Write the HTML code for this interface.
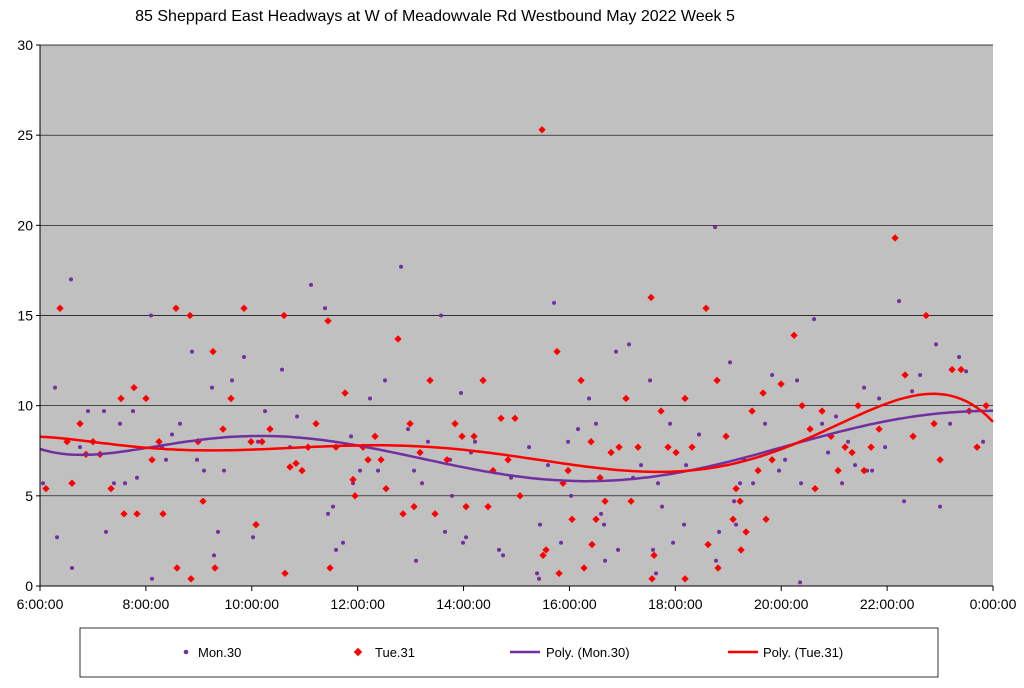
<!DOCTYPE html>
<html><head><meta charset="utf-8"><style>
body{margin:0;background:#fff;font-family:"Liberation Sans",sans-serif;}
svg text{font-family:"Liberation Sans",sans-serif;}
</style></head><body>
<svg id="chart" width="1024" height="683">
<text x="435" y="21" text-anchor="middle" font-size="16">85 Sheppard East Headways at W of Meadowvale Rd Westbound May 2022  Week 5</text>
<rect x="40" y="45" width="953" height="541" fill="#c0c0c0"/>
<g id="grid"></g><g id="marks"></g><g id="axes"></g>
<g>
<rect x="80" y="628" width="858" height="49" fill="#fff" stroke="#000" stroke-width="0.8"/>
<circle cx="186" cy="652" r="2.3" fill="#7030a0"/>
<text x="198" y="657" font-size="13">Mon.30</text>
<rect x="355" y="649" width="6" height="6" fill="#ff0000" transform="rotate(45 358 652)"/>
<text x="375" y="657" font-size="13">Tue.31</text>
<line x1="510" y1="652" x2="540" y2="652" stroke="#7030a0" stroke-width="2.5"/>
<text x="546" y="657" font-size="13">Poly. (Mon.30)</text>
<line x1="728" y1="652" x2="758" y2="652" stroke="#ff0000" stroke-width="2.5"/>
<text x="763" y="657" font-size="13">Poly. (Tue.31)</text>
</g>
</svg>
<script>
const yTicks=[0,5,10,15,20,25,30];
const xTickLabels=["6:00:00","8:00:00","10:00:00","12:00:00","14:00:00","16:00:00","18:00:00","20:00:00","22:00:00","0:00:00"];
const xTickHours=[6,8,10,12,14,16,18,20,22,24];
const tueXpx=[46,60,67,72,80,86,93,100,111,121,124,134,137,146,152,159,163,176,177,190,191,198,203,213,215,223,231,244,251,256,262,270,284,285,290,296,302,308,316,328,330,336,345,353,355,363,368,375,381,386,398,403,410,414,420,430,435,447,455,462,466,474,483,488,493,501,508,515,520,542,543,546,557,559,563,568,572,581,584,591,592,596,600,605,611,619,626,631,638,651,652,654,661,668,676,685,685,692,706,708,717,718,726,733,736,740,741,746,752,758,763,766,772,781,794,802,810,815,822,831,838,845,852,858,864,871,879,895,905,913,926,934,940,952,961,969,977,986];
const tueVals=[5.4,15.4,8,5.7,9,7.3,8,7.3,5.4,10.4,4,11,4,10.4,7,8,4,15.4,1,15,0.4,8,4.7,13,1,8.7,10.4,15.4,8,3.4,8,8.7,15,0.7,6.6,6.8,6.4,7.7,9,14.7,1,7.7,10.7,5.9,5,7.7,7,8.3,7,5.4,13.7,4,9,4.4,7.4,11.4,4,7,9,8.3,4.4,8.3,11.4,4.4,6.4,9.3,7,9.3,5,25.3,1.7,2,13,0.7,5.7,6.4,3.7,11.4,1,8,2.3,3.7,6,4.7,7.4,7.7,10.4,4.7,7.7,16,0.4,1.7,9.7,7.7,7.4,10.4,0.4,7.7,15.4,2.3,11.4,1,8.3,3.7,5.4,4.7,2,3,9.7,6.4,10.7,3.7,7,11.2,13.9,10,8.7,5.4,9.7,8.3,6.4,7.7,7.4,10,6.4,7.7,8.7,19.3,11.7,8.3,15,9,7,12,12,9.7,7.7,10];
const monXpx=[43,55,57,71,72,80,88,104,106,114,120,125,133,137,151,152,162,166,172,180,192,197,204,212,214,218,224,232,244,253,258,265,282,290,297,311,325,328,333,336,343,351,353,360,370,378,385,401,408,414,416,422,428,441,445,450,452,461,463,466,471,475,499,503,511,529,537,540,539,548,554,561,568,571,578,589,596,601,604,605,616,618,629,633,641,650,653,656,658,662,670,673,684,686,699,715,716,719,730,734,736,740,744,753,765,772,779,785,797,800,801,814,822,828,836,842,848,855,864,867,872,879,885,899,904,912,920,936,940,950,959,966,970,976,983];
const monVals=[5.7,11,2.7,17,1,7.7,9.7,9.7,3,5.7,9,5.7,9.7,6,15,0.4,7.7,7,8.4,9,13,7,6.4,11,1.7,3,6.4,11.4,12.7,2.7,8,9.7,12,7.7,9.4,16.7,15.4,4,4.4,2,2.4,8.3,5.7,6.4,10.4,6.4,11.4,17.7,8.7,6.4,1.4,5.7,8,15,3,7,5,10.7,2.4,2.7,7.4,8,2,1.7,6,7.7,0.7,3.4,0.4,6.7,15.7,2.4,8,5,8.7,10.4,9,4,3.4,1.4,13,2,13.4,6,6.7,11.4,2,0.7,5.7,4.4,9,2.4,3.4,6.7,8.4,19.9,1.4,3,12.4,4.7,3.4,5.7,7,5.7,9,11.7,6.4,7,11.4,0.2,5.7,14.8,9,7.4,9.4,5.7,8,6.7,11,6.4,6.4,10.4,7.7,15.8,4.7,10.8,11.7,13.4,4.4,9,12.7,11.9,9.7,7.7,8];
const tueHours=tueXpx.map(p=>6+(p-40)/52.94);
const monHours=monXpx.map(p=>6+(p-40)/52.94);

const X=h=>40+(h-6)*(953/18), Y=v=>586-v*(541/30);
const NS="http://www.w3.org/2000/svg";
function mk(t,a,parent){const e=document.createElementNS(NS,t);for(const k in a)e.setAttribute(k,a[k]);parent.appendChild(e);return e;}
const grid=document.getElementById('grid'),marks=document.getElementById('marks'),axes=document.getElementById('axes');
yTicks.forEach(v=>{
 if(v>0){const l=mk('line',{x1:40,x2:993,y1:Y(v),y2:Y(v),stroke:'#000','stroke-width':0.7},grid);
 
 }
 const t=mk('text',{x:33,y:Y(v)+5,'text-anchor':'end','font-size':14},axes);t.textContent=v;
 
 
 mk('line',{x1:36,x2:40,y1:Y(v),y2:Y(v),stroke:'#000'},axes);
});
xTickHours.forEach((h,i)=>{
 const t=mk('text',{x:X(h),y:609,'text-anchor':'middle','font-size':14},axes);t.textContent=xTickLabels[i];
 
 
 mk('line',{x1:X(h),x2:X(h),y1:586,y2:591,stroke:'#000'},axes);
});
mk('line',{x1:40,x2:40,y1:45,y2:586,stroke:'#000'},axes);
mk('line',{x1:40,x2:993,y1:586,y2:586,stroke:'#000'},axes);

monHours.forEach((h,i)=>{
 const c=mk('circle',{cx:X(h),cy:Y(monVals[i]),r:2,fill:'#7030a0'},marks);
 
 
});
tueHours.forEach((h,i)=>{
 const x=X(h),y=Y(tueVals[i]);
 const r=mk('rect',{x:x-2.6,y:y-2.6,width:5.2,height:5.2,fill:'#ff0000',transform:`rotate(45 ${x} ${y})`},marks);
 
 
});
function polyfit(xs,ys,d){
 const n=d+1,A=[...Array(n)].map(()=>Array(n+1).fill(0));
 xs.forEach((x0,k)=>{const x=(x0-15)/9;const p=[];for(let i=0;i<2*n;i++)p.push(Math.pow(x,i));
  for(let i=0;i<n;i++){for(let j=0;j<n;j++)A[i][j]+=p[i+j];A[i][n]+=p[i]*ys[k];}});
 for(let i=0;i<n;i++){let m=i;for(let r=i+1;r<n;r++)if(Math.abs(A[r][i])>Math.abs(A[m][i]))m=r;[A[i],A[m]]=[A[m],A[i]];
  for(let r=0;r<n;r++)if(r!==i){const f=A[r][i]/A[i][i];for(let c=i;c<=n;c++)A[r][c]-=f*A[i][c];}}
 const co=A.map((r,i)=>r[n]/r[i]);
 return h=>{const x=(h-15)/9;let s=0;for(let i=n-1;i>=0;i--)s=s*x+co[i];return s;};
}
function drawFit(hs,vs,col,name){
 const f=polyfit(hs,vs,6);let d='';
 for(let h=6;h<=24.001;h+=0.1)d+=(d?'L':'M')+X(h).toFixed(1)+','+Y(f(h)).toFixed(1);
 const p=mk('path',{d:d,fill:'none',stroke:col,'stroke-width':2.5},marks);
 
 
}
drawFit(monHours,monVals,'#7030a0','poly-mon-trendline');
drawFit(tueHours,tueVals,'#ff0000','poly-tue-trendline');
</script>
</body></html>
